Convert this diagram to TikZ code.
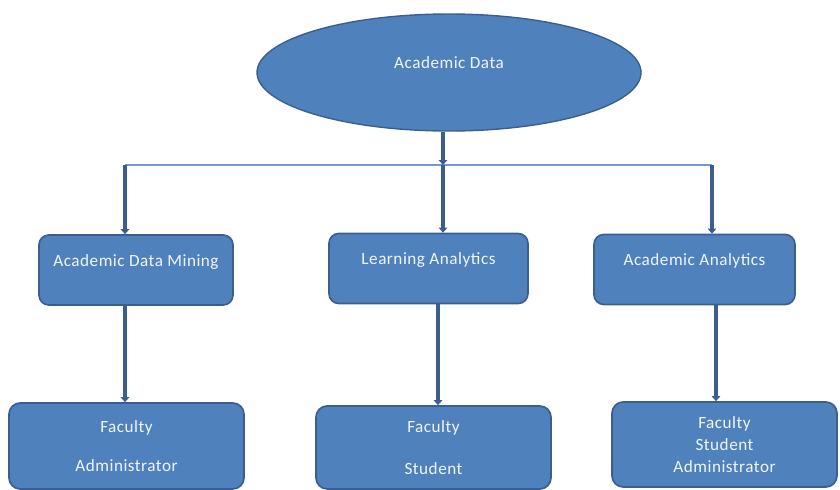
\documentclass[tikz,border=0pt]{standalone}
\usepackage{fontspec}
\setmainfont{Carlito}[LetterSpace=3]
\usetikzlibrary{arrows.meta, shapes.geometric}

\definecolor{boxfill}{HTML}{4F81BD}
\definecolor{boxline}{HTML}{3A5F8E}
\definecolor{linkcol}{HTML}{3B5E8C}
\definecolor{barcol}{HTML}{7399CD}
\definecolor{txtcol}{HTML}{F2F5FA}

\begin{document}
\begin{tikzpicture}[
    every node/.style={font=\fontsize{12.2}{15.5}\selectfont, text=txtcol},
    topic/.style={ellipse, fill=boxfill, draw=boxline, line width=1pt,
      inner sep=0pt, minimum width=9.6cm, minimum height=2.925cm,
      text height=0.2cm, text depth=0.375cm},
    field/.style={rectangle, rounded corners=7pt, fill=boxfill, draw=boxline,
      line width=1.2pt, inner ysep=0pt, text height=0.775cm, text depth=0.975cm},
    users/.style={rectangle, rounded corners=8pt, fill=boxfill, draw=boxline,
      line width=1.2pt, align=center},
    link/.style={-{Triangle[width=6pt,length=3.5pt]}, draw=linkcol,
      line width=2.6pt},
    bar/.style={draw=barcol, line width=1.2pt}]

  \useasboundingbox (0,0) rectangle (21,12.225);

% the root
  \node[topic] (data) at (11.225,10.4125) {Academic Data};

% the three fields
  \node[field, minimum width=4.85cm]  (adm) at (3.4,5.475)     {Academic Data Mining};
  \node[field, minimum width=4.975cm] (la)  at (10.7125,5.5125) {Learning Analytics};
  \node[field, minimum width=5.025cm] (aa)  at (17.3625,5.4875) {Academic Analytics};

% who uses them
  \node[users, minimum width=5.875cm, minimum height=2.15cm]  (u1) at (3.1625,1.075)
    {Faculty\\[12.5pt]Administrator};
  \node[users, minimum width=5.875cm, minimum height=2.075cm] (u2) at (10.8375,1.0375)
    {Faculty\\[14pt]Student};
  \node[users, minimum width=5.625cm, minimum height=2.125cm] (u3) at (18.1125,1.1125)
    {Faculty\\Student\\Administrator};

% where the branches leave the bar
  \coordinate (j1) at (3.125,8.1);
  \coordinate (j2) at (11.075,8.1);
  \coordinate (j3) at (17.8,8.1);
  \coordinate (d2) at (10.95,0);
  \coordinate (d3) at (17.9,0);

% define the links
  \draw[bar] (j1) -- (j3);
  \draw[link] (data.south -| j2) -- (j2);
  \draw[link] (j1) -- (j1 |- adm.north);
  \draw[link] (j2) -- (j2 |- la.north);
  \draw[link] (j3) -- (j3 |- aa.north);
  \draw[link] (adm.south -| j1) -- (u1.north -| j1);
  \draw[link] (la.south -| d2)  -- (u2.north -| d2);
  \draw[link] (aa.south -| d3)  -- (u3.north -| d3);

\end{tikzpicture}
\end{document}
